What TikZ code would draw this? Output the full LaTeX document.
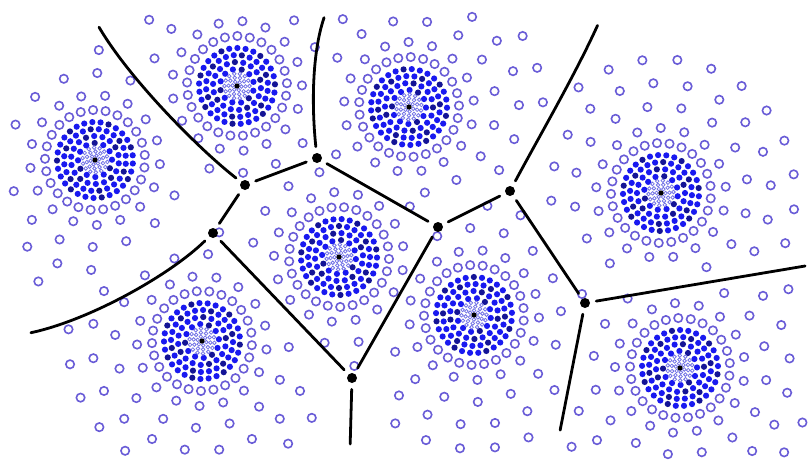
\documentclass[tikz,border=0pt]{standalone}
\usepackage{tikz}
\definecolor{opc}{RGB}{105,92,215}
\definecolor{fillb}{RGB}{25,25,240}
\definecolor{filld}{RGB}{20,20,150}
\definecolor{tinyc}{RGB}{115,115,230}
\newif\ifkeepdot
\def\centers{95/160,237/86,409/107,339/257,202/341,474/315,661/193,680/368}
\tikzset{
 opendot/.style={draw=opc, fill=white, line width=0.8pt},
 tinydot/.style={draw=tinyc, fill=white, line width=0.4pt},
 vtx/.style={circle, fill=black, inner sep=0pt, minimum size=5pt},
 vline/.style={line width=1.4pt, shorten <=3pt, shorten >=3pt, line cap=round},
}
\begin{document}
\begin{tikzpicture}[x=0.5pt,y=-0.5pt]
\useasboundingbox (0,0) rectangle (812,466);
\fill[white] (0,0) rectangle (812,466);
\clip (0,0) rectangle (812,466);
\foreach \cx/\cy/\off [count=\k] in {95/160/0,237/86/17,409/107/33,339/257/8,202/341/25,474/315/41,661/193/12,680/368/29} {
  \foreach \r/\n [count=\ri] in {50/25,65/17,87/16,110/20,134/24} {
    \foreach \i in {1,...,\n} {
      \pgfmathsetmacro\ang{\off+\ri*23+360*\i/\n}
      \pgfmathsetmacro\px{\cx+\r*cos(\ang)}
      \pgfmathsetmacro\py{\cy+\r*sin(\ang)}
      \global\keepdottrue
      \ifdim\px pt<9pt \global\keepdotfalse\fi
      \ifdim\px pt>803pt \global\keepdotfalse\fi
      \ifdim\py pt<9pt \global\keepdotfalse\fi
      \ifdim\py pt>457pt \global\keepdotfalse\fi
      \pgfmathparse{\px+\py}
      \ifdim\pgfmathresult pt<120pt \global\keepdotfalse\fi
      \foreach \qx/\qy [count=\j] in \centers {
        \ifnum\j=\k\relax\else
          \pgfmathparse{10*veclen((\px-\qx)/10,(\py-\qy)/10)-\r}
          \ifdim\pgfmathresult pt<12pt \global\keepdotfalse\fi
        \fi
      }
      \ifkeepdot \draw[opendot] (\px,\py) circle[radius=2.1pt];\fi
    }
  }
  \foreach \r/\n in {17/12,24/18,31/24,38/29} {
    \foreach \i in {1,...,\n} {
      \pgfmathsetmacro\ang{\off+\r*7+360*\i/\n}
      \pgfmathtruncatemacro\m{mod(\i*7+\r,4)}
      \ifnum\m=0 \def\fc{filld}\else\def\fc{fillb}\fi
      \fill[\fc] ({\cx+\r*cos(\ang)},{\cy+\r*sin(\ang)}) circle[radius=1.55pt];
    }
  }
  \foreach \r/\n in {4.5/6,8.5/10,12.5/14} {
    \foreach \i in {1,...,\n} {
      \pgfmathsetmacro\ang{\off+\r*11+360*\i/\n}
      \draw[tinydot] ({\cx+\r*cos(\ang)},{\cy+\r*sin(\ang)}) circle[radius=0.9pt];
    }
  }
  \fill[black] (\cx,\cy) circle[radius=1.3pt];
}
% Voronoi vertices
\node[vtx] (A) at (245,185) {};
\node[vtx] (B) at (317,158) {};
\node[vtx] (C) at (213,233) {};
\node[vtx] (D) at (438,227) {};
\node[vtx] (E) at (510,191) {};
\node[vtx] (F) at (585,303) {};
\node[vtx] (G) at (352,378) {};
\coordinate (T1) at (96,22);
\coordinate (T2) at (326,12);
\coordinate (T3) at (600,20);
\coordinate (L) at (25,334);
\coordinate (R) at (811,265);
\coordinate (B1) at (350,450);
\coordinate (B2) at (559,436);
\draw[vline] (A) .. controls (200,150) and (130,80) .. (T1);
\draw[vline] (A) -- (B);
\draw[vline] (A) -- (C);
\draw[vline] (B) .. controls (311,100) and (313,50) .. (T2);
\draw[vline] (B) -- (D);
\draw[vline] (C) .. controls (170,275) and (90,320) .. (L);
\draw[vline] (C) -- (G);
\draw[vline] (G) -- (B1);
\draw[vline] (G) -- (D);
\draw[vline] (D) -- (E);
\draw[vline] (E) .. controls (540,135) and (575,75) .. (T3);
\draw[vline] (E) -- (F);
\draw[vline] (F) -- (R);
\draw[vline] (F) -- (B2);
\end{tikzpicture}
\end{document}
